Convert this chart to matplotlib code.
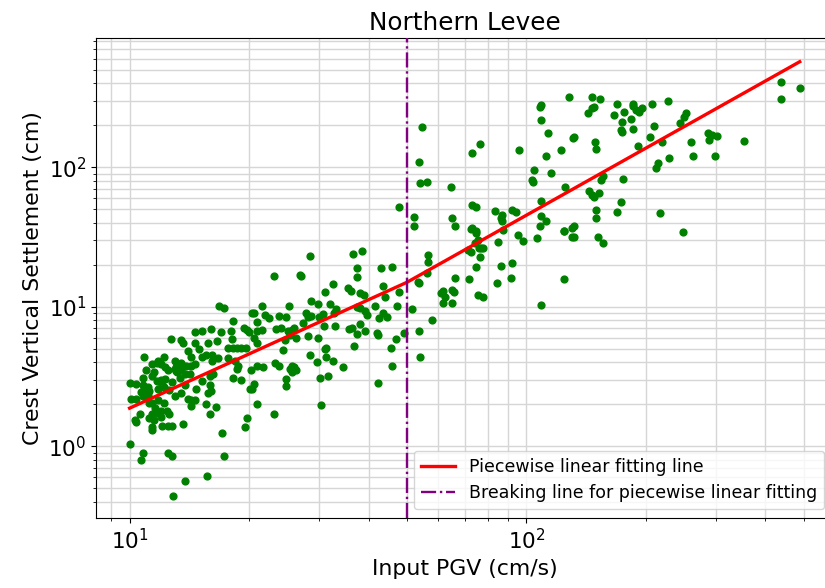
import matplotlib
matplotlib.use("Agg")
import matplotlib.pyplot as plt
import numpy as np

# Input PGV (cm/s) and crest vertical settlement (cm) for each analysis case
pgv = [
    16.8, 17.3, 20.4, 18.2, 14.6, 15.2, 16.0, 17.0, 18.0, 19.4, 19.8, 12.7, 13.5, 13.6, 14.6, 15.8,
    16.6, 15.0, 17.7, 18.2, 18.6, 19.1, 19.7, 14.0, 14.3, 15.2, 15.6, 16.1, 16.7, 17.7, 18.4, 10.9,
    11.8, 12.2, 11.4, 11.7, 12.0, 12.3, 13.0, 13.1, 13.2, 13.5, 13.9, 14.3, 14.6, 13.5, 13.8, 13.4,
    11.0, 11.5, 12.5, 10.8, 11.4, 12.8, 10.0, 10.4, 10.8, 10.9, 10.7, 11.1, 11.2, 11.1, 10.1, 10.4,
    10.8, 11.8, 12.2, 13.5, 14.0, 14.3, 14.6, 14.3, 14.7, 15.2, 15.9, 16.0, 15.8, 11.4, 11.8, 12.2,
    11.6, 12.0, 12.4, 11.8, 11.4, 11.2, 10.6, 10.3, 10.4, 11.4, 12.1, 12.5, 12.8, 13.6, 15.9, 16.5,
    15.6, 18.2, 19.1, 18.8, 18.7, 20.2, 20.3, 19.8, 19.5, 18.1,
    12.0, 12.3, 13.0, 13.1, 11.7, 12.1, 11.2, 12.6, 11.5, 12.0, 13.0, 12.6, 13.8, 14.2, 16.2, 15.9,
    16.1,
    10.0, 10.8, 10.7, 11.4, 12.5, 12.8, 17.1, 17.3, 13.8, 15.7, 12.9,
    28.4, 36.5, 38.4, 23.1, 26.9, 27.0, 37.5, 37.5, 43.0, 45.8, 32.6, 31.0, 35.5, 36.2, 38.0, 39.0,
    43.4, 43.9, 47.6, 28.7, 29.8, 25.2, 21.5, 32.0, 33.2, 32.8, 37.3, 38.0, 39.1, 39.7, 41.6, 43.4,
    42.6, 47.3, 20.6, 21.9, 22.5, 21.0, 23.8, 24.8, 20.0, 20.9, 21.5, 20.6, 21.0, 23.4, 24.0, 25.0,
    25.7, 25.9, 25.3, 26.3, 24.7, 27.3, 28.2, 28.7, 27.9, 30.0, 30.7, 30.9, 28.2, 29.9, 33.0, 35.8,
    36.3, 37.3, 38.0, 39.1, 42.1, 42.3, 44.6, 46.8, 49.0, 45.6, 45.8, 42.3, 36.7, 31.3, 31.0, 31.3,
    32.5, 34.5, 29.6, 28.4, 31.7, 30.2, 30.4, 24.3, 23.2, 23.8, 25.6, 25.3, 25.9, 26.3, 25.7, 24.8,
    24.8, 20.9, 21.7, 20.6, 20.1, 21.0, 23.1, 47.6,
    54.4, 53.7, 54.0, 56.0, 73.1, 76.5, 64.4, 96.0, 108.5, 108.0, 109.0, 113.0, 122.0, 131.0, 132.0,
    112.0, 104.6, 115.0, 103.0, 103.7, 125.0, 144.0, 146.0, 148.0, 154.0, 150.0, 150.0, 143.0,
    146.0, 148.0, 149.0, 150.0, 109.0, 109.0, 108.0, 112.0, 124.0, 124.5, 130.0, 132.0, 130.0,
    132.0, 106.0, 151.0, 156.0, 124.5, 108.5, 83.5, 86.6, 86.1, 86.6, 87.1, 92.0, 94.0, 95.2, 98.2,
    84.8, 72.6, 73.1, 74.8, 74.8, 73.1, 74.4, 65.1, 66.1, 74.0, 75.7, 76.7, 77.5, 75.3, 71.4, 72.6,
    76.3, 74.8, 86.1, 92.0, 71.8, 84.5, 91.5, 66.1, 65.0, 65.6, 61.6, 60.9, 62.2, 61.6, 64.8, 75.3,
    77.7, 56.6, 56.6, 56.3, 53.2, 53.7, 52.0, 52.0, 51.6, 57.7, 53.7, 54.0,
    128.0, 146.0, 153.0,
    169.0, 176.0, 185.0, 186.0, 189.0, 192.0, 196.0, 207.0, 166.0, 174.0, 183.0, 173.0, 174.0,
    186.0, 227.0, 209.0, 205.0, 219.0, 191.0, 244.0, 249.0, 253.0, 260.0, 263.0, 229.0, 215.0,
    212.0, 286.0, 293.0, 302.0, 289.0, 298.0, 354.0, 437.0, 439.0, 488.0, 156.0, 175.0, 152.0,
    173.0, 169.0, 217.0, 248.0,
]
settlement = [
    10.1, 9.8, 9.0, 7.9, 6.6, 6.7, 6.9, 6.6, 6.7, 7.0, 6.8, 5.9, 5.75, 5.55, 5.5, 5.5,
    5.65, 5.0, 5.1, 5.1, 5.1, 5.1, 5.1, 4.8, 4.35, 4.4, 4.55, 4.5, 4.3, 4.3, 4.1, 4.35,
    4.1, 4.35, 3.9, 3.95, 3.9, 3.7, 4.1, 3.7, 3.4, 3.95, 3.8, 3.8, 3.9, 3.5, 3.3, 3.1,
    3.55, 3.4, 3.5, 3.1, 3.2, 2.9, 2.85, 2.8, 2.75, 2.6, 2.45, 2.65, 2.5, 2.35, 2.2, 2.2,
    2.3, 2.6, 2.65, 2.4, 2.2, 2.15, 2.15, 1.95, 2.6, 2.95, 2.75, 2.5, 2.4, 2.05, 2.15, 2.05,
    1.9, 1.8, 1.78, 1.75, 1.72, 1.6, 1.72, 1.54, 1.49, 1.37, 1.41, 1.41, 1.41, 1.44, 1.7, 1.93,
    2.0, 3.07, 3.0, 3.75, 3.6, 3.55, 2.6, 1.6, 1.37, 5.85,
    3.0, 3.05, 3.6, 3.45, 2.95, 2.75, 2.05, 1.72, 1.55, 1.62, 2.3, 2.55, 2.75, 3.3, 3.3, 3.2,
    4.1,
    1.04, 0.9, 0.8, 1.32, 0.9, 0.85, 1.24, 0.86, 0.57, 0.61, 0.44,
    23.0, 24.0, 25.0, 16.5, 17.0, 16.5, 18.9, 16.3, 18.9, 19.2, 14.5, 12.8, 13.6, 12.9, 12.5, 12.1,
    14.0, 11.7, 12.7, 11.1, 10.4, 10.2, 10.1, 10.4, 9.6, 9.1, 9.9, 9.8, 9.4, 8.7, 10.1, 9.1,
    8.3, 10.1, 9.0, 8.7, 8.3, 7.8, 8.55, 8.4, 6.6, 6.7, 6.8, 5.95, 5.55, 6.9, 7.1, 6.7,
    6.8, 7.1, 6.25, 5.95, 5.75, 7.6, 8.4, 8.55, 9.0, 8.4, 8.85, 7.25, 6.15, 5.95, 7.25, 6.9,
    7.1, 6.35, 7.5, 6.7, 6.45, 6.25, 8.4, 5.85, 6.45, 5.05, 3.8, 2.83, 5.2, 5.1, 5.0, 4.4,
    4.1, 3.7, 4.0, 4.5, 3.2, 3.1, 1.97, 4.9, 3.95, 3.75, 3.75, 3.6, 3.7, 3.5, 3.4, 3.05,
    2.7, 3.75, 3.7, 2.8, 2.6, 2.03, 1.72, 51.7,
    194.0, 109.0, 77.0, 78.0, 126.0, 146.0, 72.0, 132.0, 217.0, 269.0, 278.0, 175.0, 132.0, 161.0,
    164.0, 120.0, 95.0, 90.6, 80.7, 78.0, 72.0, 68.0, 63.0, 61.0, 81.0, 49.0, 43.0, 244.0,
    265.0, 269.0, 151.0, 135.0, 57.0, 45.0, 38.0, 41.0, 35.0, 35.0, 36.5, 38.0, 31.5,
    31.5, 31.0, 31.5, 28.5, 15.7, 10.3, 48.4, 45.3, 43.0, 41.0, 35.3, 49.0, 47.5, 32.6, 29.5,
    29.0, 36.0, 36.5, 33.7, 34.8, 54.0, 51.7, 43.0, 37.8, 28.5, 26.3, 26.3, 26.3, 30.0, 25.4, 24.6,
    22.6, 19.2, 19.5, 20.5, 15.7, 14.7, 16.0, 16.2, 13.3, 12.7, 12.9, 12.5, 11.7, 10.6, 10.6, 12.1,
    11.7, 23.4, 20.8, 17.4, 15.0, 14.7, 43.8, 37.8, 9.6, 8.1, 6.7, 4.4,
    318.0, 318.0, 310.0,
    283.0, 248.0, 283.0, 274.0, 256.0, 248.0, 265.0, 283.0, 236.0, 210.0, 221.0, 184.0, 178.0,
    187.0, 297.0, 197.0, 164.0, 151.0, 141.0, 207.0, 228.0, 244.0, 151.0, 120.0, 116.0, 107.0,
    98.0, 175.0, 170.0, 167.0, 156.0, 120.0, 154.0, 407.0, 307.0, 368.0, 86.0, 82.0, 65.0,
    56.0, 47.5, 46.8, 34.2,
]

# Piecewise linear fit in log-log space: start, breakpoint, end
fit_pgv = [10.0, 50.0, 488.0]
fit_settlement = [1.88, 15.0, 570.0]
break_pgv = 50.0

fig = plt.figure(figsize=(8.25, 5.88), dpi=100)
ax = fig.add_axes([0.1164, 0.119, 0.8933, 0.816])

ax.scatter(pgv, settlement, s=24, color="green", zorder=2)
ax.plot(fit_pgv, fit_settlement, color="red", linewidth=2.4, zorder=3,
        label="Piecewise linear fitting line")
ax.axvline(break_pgv, color="purple", linestyle="-.", linewidth=1.7, zorder=3,
           label="Breaking line for piecewise linear fitting")

ax.set_xscale("log")
ax.set_yscale("log")
ax.set_xlim(8.23, 592)
ax.set_ylim(0.307, 840)

ax.grid(True, which="both", color="#d6d6d6", linewidth=1.0, zorder=0)
ax.set_axisbelow(True)

ax.tick_params(axis="both", which="major", labelsize=15.5)
ax.set_title("Northern Levee", fontsize=17.8)
ax.set_xlabel("Input PGV (cm/s)", fontsize=15.8)
ax.set_ylabel("Crest Vertical Settlement (cm)", fontsize=15.8)

ax.legend(loc="lower right", fontsize=12.5)

fig.savefig("out.png", dpi=100)
